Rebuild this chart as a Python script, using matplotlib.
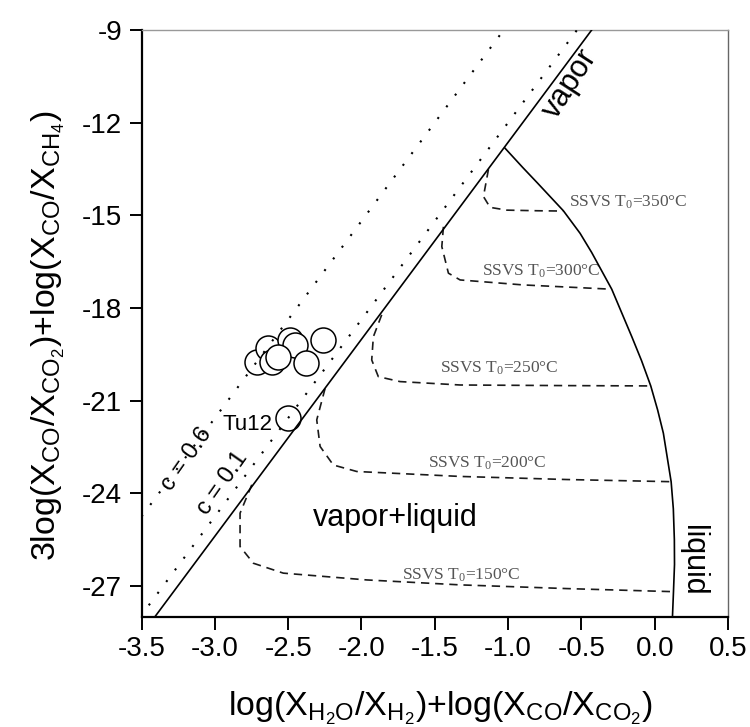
import matplotlib
matplotlib.use("Agg")
import matplotlib.pyplot as plt

plt.rcParams['font.family'] = ['Liberation Sans', 'DejaVu Sans']
plt.rcParams['axes.unicode_minus'] = False

# boundary between vapor and vapor+liquid
vapor_x = [-3.41, -0.43]
vapor_y = [-28.0, -9.0]

# lines of constant c (shifted from the vapor boundary)
c01_x = [-3.51, -0.53]
c01_y = [-28.0, -9.0]
c06_x = [-3.50, -1.03]
c06_y = [-24.75, -9.0]

# liquid boundary
liq_x = [-1.02, -0.90, -0.80, -0.623, -0.509, -0.43, -0.293, -0.156, -0.09, -0.027,
         0.02, 0.059, 0.112, 0.127, 0.134, 0.135, 0.128, 0.121]
liq_y = [-12.83, -13.45, -13.95, -14.85, -15.58, -16.2, -17.39, -18.93, -19.7, -20.52,
         -21.3, -22.05, -23.62, -24.5, -25.5, -26.3, -27.18, -28.0]

# SSVS curves
t350_x = [-1.134, -1.168, -1.123, -1.009, -0.80, -0.623]
t350_y = [-13.51, -14.39, -14.74, -14.83, -14.85, -14.86]
t300_x = [-1.441, -1.452, -1.407, -1.327, -0.90, -0.293]
t300_y = [-15.37, -16.01, -16.87, -17.09, -17.25, -17.39]
t250_x = [-1.862, -1.919, -1.93, -1.885, -1.737, -1.327, -0.60, -0.027]
t250_y = [-18.22, -18.93, -19.68, -20.22, -20.38, -20.49, -20.51, -20.52]
t200_x = [-2.248, -2.305, -2.282, -2.192, -2.032, -1.327, -0.60, 0.112]
t200_y = [-20.6, -21.62, -22.48, -23.08, -23.29, -23.45, -23.55, -23.62]
t150_x = [-2.748, -2.828, -2.828, -2.737, -2.533, -1.964, -1.327, -0.60, 0.128]
t150_y = [-23.72, -24.64, -25.72, -26.26, -26.58, -26.8, -26.96, -27.08, -27.18]

ssvs_curves = [(t350_x, t350_y), (t300_x, t300_y), (t250_x, t250_y), (t200_x, t200_y), (t150_x, t150_y)]
ssvs_temps = [350, 300, 250, 200, 150]
ssvs_lab_x = [-0.583, -1.18, -1.464, -1.544, -1.725]
ssvs_lab_y = [-14.57, -16.82, -19.95, -23.02, -26.64]

# samples
samp_x = [-2.714, -2.635, -2.487, -2.453, -2.612, -2.567, -2.378, -2.26, -2.499]
samp_y = [-19.73, -19.30, -19.03, -19.19, -19.73, -19.57, -19.79, -19.03, -21.57]

fig = plt.figure(figsize=(7.5, 7.27), dpi=100)
ax = fig.add_axes([0.1887, 0.1513, 0.782, 0.8074])

ax.plot(vapor_x, vapor_y, color='black', lw=1.2, zorder=4)
ax.plot(c01_x, c01_y, color='black', lw=1.5, linestyle=(0, (1, 6)), zorder=3)
ax.plot(c06_x, c06_y, color='black', lw=1.5, linestyle=(0, (1, 6)), zorder=3)
ax.plot(liq_x, liq_y, color='black', lw=1.2, zorder=4)

for (cx, cy) in ssvs_curves:
    ax.plot(cx, cy, color='#1a1a1a', lw=1.2, linestyle=(0, (5, 3.5)), zorder=3)

for t, lx, ly in zip(ssvs_temps, ssvs_lab_x, ssvs_lab_y):
    ax.text(lx, ly, 'SSVS T$\\mathregular{_0}$=%d°C' % t, family='Liberation Serif',
            fontsize=12.5, color='#555555', ha='left', va='center')

ax.plot(samp_x, samp_y, linestyle='none', marker='o', markersize=18,
        markerfacecolor='white', markeredgecolor='black', markeredgewidth=1.1, zorder=2)

ax.text(-2.78, -21.78, 'Tu12', fontsize=16, ha='center', va='center')
ax.text(-1.77, -24.8, 'vapor+liquid', fontsize=22, ha='center', va='center')
ax.text(-0.58, -10.75, 'vapor', fontsize=22, rotation=57, ha='center', va='center',
        rotation_mode='anchor')
ax.text(0.263, -26.15, 'liquid', fontsize=22, rotation=-90, ha='center', va='center')
ax.text(-3.19, -22.88, 'c = 0.6', fontsize=17, rotation=55, ha='center', va='center',
        rotation_mode='anchor')
ax.text(-2.95, -23.67, 'c = 0.1', fontsize=17, rotation=55, ha='center', va='center',
        rotation_mode='anchor')

ax.set_xlim(-3.5, 0.5)
ax.set_ylim(-28, -9)
ax.set_xticks([-3.5, -3.0, -2.5, -2.0, -1.5, -1.0, -0.5, 0.0, 0.5])
ax.set_xticklabels(['-3.5', '-3.0', '-2.5', '-2.0', '-1.5', '-1.0', '-0.5', '0.0', '0.5'])
ax.set_yticks([-9, -12, -15, -18, -21, -24, -27])
ax.tick_params(direction='out', length=9, width=1.4, labelsize=20, pad=5, colors='black')

ax.spines['left'].set_linewidth(1.6)
ax.spines['bottom'].set_linewidth(1.6)
ax.spines['top'].set_color('#999999')
ax.spines['right'].set_color('#666666')
ax.spines['top'].set_linewidth(1.0)
ax.spines['right'].set_linewidth(1.0)

ax.set_xlabel(r'log(X$\mathregular{_{H_2O}}$/X$\mathregular{_{H_2}}$)+log(X$\mathregular{_{CO}}$/X$\mathregular{_{CO_2}}$)',
              fontsize=24.5)
ax.set_ylabel(r'3log(X$\mathregular{_{CO}}$/X$\mathregular{_{CO_2}}$)+log(X$\mathregular{_{CO}}$/X$\mathregular{_{CH_4}}$)',
              fontsize=24.5)
ax.xaxis.label.set_verticalalignment('center')
ax.yaxis.label.set_verticalalignment('center')
ax.xaxis.set_label_coords(0.509, -0.155)
ax.yaxis.set_label_coords(-0.158, 0.479)

fig.savefig('out.png', dpi=100)
